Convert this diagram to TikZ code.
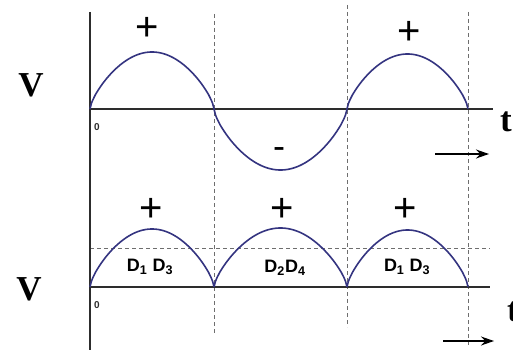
\documentclass[tikz,border=0pt]{standalone}
\usepackage{fontspec}
\setmainfont{Liberation Serif}
\newfontfamily\lsans{Liberation Sans}
\usetikzlibrary{arrows.meta}
\definecolor{wave}{RGB}{52,52,128}
\definecolor{axisc}{RGB}{45,45,45}
\definecolor{dashc}{RGB}{110,110,110}
\begin{document}
\begin{tikzpicture}[x=1pt,y=-1pt,
  axisline/.style={draw=axisc,line width=1.6pt},
  dashline/.style={draw=dashc,line width=0.7pt,dash pattern=on 4pt off 3pt},
  waveline/.style={draw=wave,line width=1.6pt},
  dirarrow/.style={draw=black,line width=1.2pt,-{Stealth[length=13pt,width=9pt]}},
  vlabel/.style={inner sep=0pt,font=\fontsize{35}{35}\selectfont\bfseries},
  plus/.style={inner sep=0pt,font=\lsans\fontsize{40}{40}\selectfont},
  dlabel/.style={inner sep=0pt,font=\lsans\fontsize{18}{18}\selectfont\bfseries},
  zlabel/.style={inner sep=0pt,text=axisc,font=\lsans\fontsize{10}{10}\selectfont\bfseries},
  declare function={hump(\t)=pow(max(sin(\t),0.0001),0.7);}]
\useasboundingbox (0,0) rectangle (513,353);
% coordinates
\coordinate (vtop) at (90,12);
\coordinate (vbot) at (90,350);
\coordinate (ax1s) at (90,109);
\coordinate (ax1e) at (493,109);
\coordinate (ax2s) at (90,287);
\coordinate (ax2e) at (490,287);
\coordinate (d1t) at (214,14);
\coordinate (d1b) at (214,335);
\coordinate (d2t) at (347,5);
\coordinate (d2b) at (347,327);
\coordinate (d3t) at (468,12);
\coordinate (d3b) at (468,347);
\coordinate (hds) at (90,248);
\coordinate (hde) at (490,248);
\coordinate (ar1s) at (435,154);
\coordinate (ar1e) at (489,154);
\coordinate (ar2s) at (443,341);
\coordinate (ar2e) at (494,341);
% dashed guides
\draw[dashline] (d1t) -- (d1b);
\draw[dashline] (d2t) -- (d2b);
\draw[dashline] (d3t) -- (d3b);
\draw[dashline] (hds) -- (hde);
% axes
\draw[axisline] (vtop) -- (vbot);
\draw[axisline] (ax1s) -- (ax1e);
\draw[axisline] (ax2s) -- (ax2e);
% top wave
\draw[waveline] plot[domain=0:180,samples=91] ({90+\x/180*124},{109-57*hump(\x)});
\draw[waveline] plot[domain=0:180,samples=91] ({214+\x/180*133},{109+61*hump(\x)});
\draw[waveline] plot[domain=0:180,samples=91] ({347+\x/180*121},{109-55*hump(\x)});
% bottom rectified wave
\draw[waveline] plot[domain=0:180,samples=91] ({90+\x/180*124},{287-58*hump(\x)});
\draw[waveline] plot[domain=0:180,samples=91] ({214+\x/180*133},{287-59*hump(\x)});
\draw[waveline] plot[domain=0:180,samples=91] ({347+\x/180*121},{287-57*hump(\x)});
% arrows
\draw[dirarrow] (ar1s) -- (ar1e);
\draw[dirarrow] (ar2s) -- (ar2e);
% labels
\node[vlabel] (v1) at (31,85) {V};
\node[vlabel] (v2) at (29,289) {V};
\node[vlabel] (t1) at (506,122) {t};
\node[vlabel] (t2) at (513,312) {t};
\node[zlabel] (z1) at (97,127) {0};
\node[zlabel] (z2) at (97,305) {0};
\node[plus] (p1) at (147,29) {+};
\node[plus] (p2) at (409,33) {+};
\node[inner sep=0pt,font=\lsans\fontsize{36}{36}\selectfont] (m1) at (279,153) {-};
\node[plus] (p3) at (151,210) {+};
\node[plus] (p4) at (282,210) {+};
\node[plus] (p5) at (405,210) {+};
\node[dlabel] (l1) at (150,267) {D\textsubscript{1} D\textsubscript{3}};
\node[dlabel] (l2) at (285,268) {D\textsubscript{2}D\textsubscript{4}};
\node[dlabel] (l3) at (407,267) {D\textsubscript{1} D\textsubscript{3}};
\end{tikzpicture}
\end{document}
